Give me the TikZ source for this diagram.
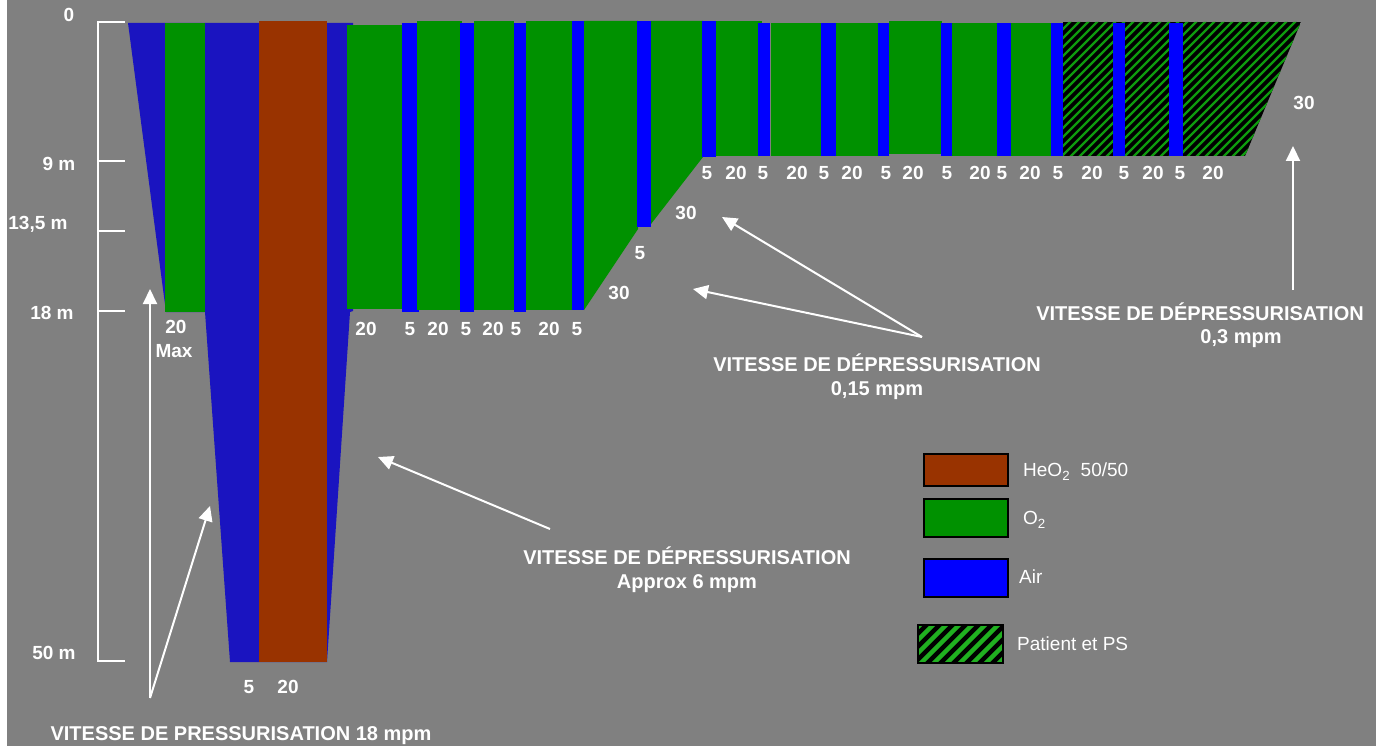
\documentclass[tikz,border=0pt]{standalone}
\usepackage{fontspec}
\setmainfont{Liberation Sans}
\usetikzlibrary{arrows.meta}
\definecolor{bg}{HTML}{808080}
\definecolor{dblue}{HTML}{1A14C0}
\definecolor{bblue}{HTML}{0000FF}
\definecolor{ogreen}{HTML}{009100}
\definecolor{heo}{HTML}{993300}
\definecolor{hgreen}{HTML}{0E9A0E}
\definecolor{lgreen}{HTML}{20B020}
\tikzset{
  num/.style={text=white, inner sep=0pt, text height=13.6pt, text depth=0pt,
    font=\fontsize{19}{22}\selectfont\bfseries},
  ttl/.style={text=white, inner sep=0pt, text height=14.2pt, text depth=0pt,
    font=\fontsize{20}{24}\selectfont\bfseries},
  leg/.style={text=white, inner sep=0pt, anchor=west, text height=13.8pt, text depth=0pt,
    font=\fontsize{19}{22}\selectfont},
  axisline/.style={draw=white, line width=2pt},
  warrow/.style={draw=white, line width=2pt, -{Triangle[length=15pt,width=14pt]}},
  legbox/.style={draw=black, line width=1.5pt},
}
\begin{document}
\begin{tikzpicture}[x=1pt,y=-1pt]
\useasboundingbox (0,0) rectangle (1376,746);
\fill[white] (0,0) rectangle (1376,746);
\fill[bg] (7,0) rectangle (1376,746);

% ---- axis ----
\draw[axisline] (125,22) -- (98,22) -- (98,661) -- (125,661);
\foreach \yy in {161,231,311} \draw[axisline] (98,\yy) -- (125,\yy);
\node[num] (a0)  at (69,15)  {0};
\node[num] (a9)  at (59,164) {9 m};
\node[num] (a13) at (38,223) {13,5 m};
\node[num] (a18) at (52,313) {18 m};
\node[num] (a50) at (54,653) {50 m};

% ---- pressurisation / deep part ----
\fill[dblue] (128,23) -- (353,23) -- (353,311) -- (350,312) -- (327,662)
  -- (230,662) -- (205,312) -- (166,312) -- cycle;
\fill[ogreen] (165,23) rectangle (205,312);
\fill[heo] (259,21) rectangle (327,662);

% ---- 18 m stage ----
\fill[ogreen] (347,25) rectangle (407,309);
\fill[bblue] (402,23) rectangle (419,312);
\fill[ogreen] (417,21) rectangle (462,310);
\fill[bblue] (460,23) rectangle (474,312);
\fill[ogreen] (474,21) rectangle (514,310);
\fill[bblue] (514,23) rectangle (526,312);
\fill[ogreen] (526,21) rectangle (572,310);
\fill[bblue] (572,21) rectangle (584,310);
\fill[ogreen] (584,21) -- (638,21) -- (638,229) -- (584,310) -- cycle;
\fill[bblue] (637,21) rectangle (651,227);
\fill[ogreen] (651,21) -- (703,21) -- (703,157) -- (651,224) -- cycle;

% ---- 9 m stage ----
\fill[bblue] (702,21) rectangle (716,157);
\fill[ogreen] (716,21) rectangle (762,156);
\fill[bblue] (758,23) rectangle (770,156);
\fill[ogreen] (771,23) rectangle (821,156);
\fill[bblue] (821,23) rectangle (836,156);
\fill[ogreen] (836,23) rectangle (878,156);
\fill[bblue] (878,23) rectangle (889,156);
\fill[ogreen] (889,21) rectangle (942,154);
\fill[bblue] (941,23) rectangle (952,156);
\fill[ogreen] (952,23) rectangle (997,156);
\fill[bblue] (997,23) rectangle (1011,156);
\fill[ogreen] (1011,23) rectangle (1051,156);
\fill[bblue] (1051,23) rectangle (1063,156);
% hatched part
\begin{scope}
  \clip (1063,22) -- (1301,22) -- (1245,156) -- (1063,156) -- cycle;
  \fill[black] (1063,22) rectangle (1301,156);
  \foreach \i in {0,...,42} \draw[hgreen, line width=2.4pt] (923+\i*9,160) -- ++(145,-145);
\end{scope}
\fill[bblue] (1113,23) rectangle (1125,156);
\fill[bblue] (1169,23) rectangle (1183,156);

% ---- stop labels ----
\node[num] (n1)  at (176,327) {20};
\node[num] (n1m) at (174,351) {Max};
\node[num] (n2)  at (249,687) {5};
\node[num] (n3)  at (288,687) {20};
\node[num] (s1) at (366,329) {20};
\node[num] (s2) at (410,329) {5};
\node[num] (s3) at (438,329) {20};
\node[num] (s4) at (466,329) {5};
\node[num] (s5) at (493,329) {20};
\node[num] (s6) at (516,329) {5};
\node[num] (s7) at (549,329) {20};
\node[num] (s8) at (577,329) {5};
\node[num] (r1) at (619,293) {30};
\node[num] (r2) at (640,253) {5};
\node[num] (r3) at (686,213) {30};
\node[num] (t1)  at (707,173) {5};
\node[num] (t2)  at (736,173) {20};
\node[num] (t3)  at (763,173) {5};
\node[num] (t4)  at (797,173) {20};
\node[num] (t5)  at (824,173) {5};
\node[num] (t6)  at (852,173) {20};
\node[num] (t7)  at (886,173) {5};
\node[num] (t8)  at (913,173) {20};
\node[num] (t9)  at (947,173) {5};
\node[num] (t10) at (980,173) {20};
\node[num] (t11) at (1002,173) {5};
\node[num] (t12) at (1030,173) {20};
\node[num] (t13) at (1058,173) {5};
\node[num] (t14) at (1092,173) {20};
\node[num] (t15) at (1124,173) {5};
\node[num] (t16) at (1153,173) {20};
\node[num] (t17) at (1180,173) {5};
\node[num] (t18) at (1213,173) {20};
\node[num] (t19) at (1304,103) {30};

% ---- titles ----
\node[ttl] (tp)  at (241,733) {VITESSE DE PRESSURISATION 18 mpm};
\node[ttl] (td1) at (687,557) {VITESSE DE DÉPRESSURISATION};
\node[ttl] (td1b) at (687,581) {Approx 6 mpm};
\node[ttl] (td2) at (877,364) {VITESSE DE DÉPRESSURISATION};
\node[ttl] (td2b) at (877,388) {0,15 mpm};
\node[ttl] (td3) at (1200,313) {VITESSE DE DÉPRESSURISATION};
\node[ttl] (td3b) at (1241,336) {0,3 mpm};

% ---- arrows ----
\coordinate (pa) at (150,698);
\coordinate (pt1) at (150,289);
\coordinate (pt2) at (210,506);
\draw[warrow] (pa) -- (pt1);
\draw[warrow] (pa) -- (pt2);
\coordinate (da) at (550,529);
\coordinate (dt) at (378,457);
\draw[warrow] (da) -- (dt);
\coordinate (ea) at (922,337);
\coordinate (et1) at (722,217);
\coordinate (et2) at (693,289);
\draw[warrow] (ea) -- (et1);
\draw[warrow] (ea) -- (et2);
\coordinate (fa) at (1293,290);
\coordinate (ft) at (1293,146);
\draw[warrow] (fa) -- (ft);

% ---- legend ----
\fill[heo] (924,454) rectangle (1008,486);
\draw[legbox] (924,454) rectangle (1008,486);
\fill[ogreen] (924,499) rectangle (1008,537);
\draw[legbox] (924,499) rectangle (1008,537);
\fill[bblue] (924,559) rectangle (1008,597);
\draw[legbox] (924,559) rectangle (1008,597);
\begin{scope}
  \clip (918,625) rectangle (1003,663);
  \fill[black] (918,625) rectangle (1003,663);
  \foreach \i in {0,...,10} \draw[lgreen, line width=4.5pt] (878+\i*13,667) -- ++(46,-46);
\end{scope}
\draw[legbox] (918,625) rectangle (1003,663);
\node[leg] (lg1) at (1023,470) {HeO\textsubscript{2}\ \ 50/50};
\node[leg] (lg2) at (1023,518) {O\textsubscript{2}};
\node[leg] (lg3) at (1019,577) {Air};
\node[leg] (lg4) at (1017,644) {Patient et PS};
\end{tikzpicture}
\end{document}
